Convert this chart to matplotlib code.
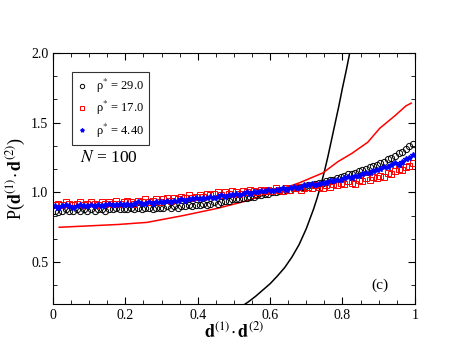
import numpy as np
import matplotlib.pyplot as plt
from matplotlib.ticker import MultipleLocator

plt.rcParams['font.family'] = ['Liberation Serif', 'DejaVu Serif']
plt.rcParams['mathtext.fontset'] = 'stix'

# bin centres of d1.d2
x = np.arange(100) * 0.01 + 0.005

rho29 = [0.87, 0.86, 0.87, 0.88, 0.87, 0.87, 0.88, 0.87, 0.88, 0.87,
         0.88, 0.87, 0.88, 0.88, 0.87, 0.88, 0.88, 0.89, 0.88, 0.88,
         0.88, 0.89, 0.88, 0.89, 0.88, 0.89, 0.89, 0.88, 0.89, 0.89,
         0.89, 0.90, 0.89, 0.90, 0.89, 0.90, 0.90, 0.91, 0.90, 0.91,
         0.91, 0.92, 0.91, 0.92, 0.93, 0.92, 0.93, 0.94, 0.94, 0.95,
         0.95, 0.95, 0.96, 0.96, 0.97, 0.97, 0.98, 0.98, 0.99, 0.99,
         1.00, 1.00, 1.01, 1.01, 1.02, 1.02, 1.03, 1.03, 1.04, 1.04,
         1.05, 1.05, 1.06, 1.07, 1.07, 1.08, 1.09, 1.09, 1.10, 1.11,
         1.12, 1.13, 1.13, 1.14, 1.15, 1.16, 1.17, 1.18, 1.19, 1.20,
         1.21, 1.22, 1.24, 1.25, 1.26, 1.28, 1.29, 1.31, 1.33, 1.35]

rho17 = [0.91, 0.92, 0.91, 0.93, 0.92, 0.91, 0.92, 0.93, 0.91, 0.92,
         0.93, 0.92, 0.91, 0.93, 0.92, 0.93, 0.92, 0.94, 0.92, 0.93,
         0.94, 0.93, 0.92, 0.94, 0.93, 0.95, 0.93, 0.94, 0.95, 0.93,
         0.95, 0.96, 0.94, 0.96, 0.95, 0.97, 0.96, 0.98, 0.96, 0.97,
         0.98, 0.97, 0.99, 0.98, 0.99, 1.00, 0.98, 1.00, 0.99, 1.01,
         1.00, 0.99, 1.01, 1.00, 1.02, 1.01, 1.00, 1.02, 1.01, 1.02,
         1.01, 1.03, 1.02, 1.01, 1.03, 1.02, 1.03, 1.04, 1.02, 1.03,
         1.04, 1.03, 1.05, 1.04, 1.03, 1.05, 1.04, 1.06, 1.05, 1.07,
         1.06, 1.08, 1.07, 1.06, 1.09, 1.08, 1.10, 1.09, 1.11, 1.10,
         1.12, 1.11, 1.14, 1.13, 1.15, 1.17, 1.16, 1.18, 1.19, 1.21]

rho44 = [0.90, 0.89, 0.90, 0.91, 0.90, 0.89, 0.90, 0.91, 0.90, 0.90,
         0.91, 0.90, 0.91, 0.90, 0.91, 0.92, 0.91, 0.91, 0.92, 0.91,
         0.92, 0.91, 0.92, 0.93, 0.92, 0.92, 0.93, 0.92, 0.93, 0.93,
         0.93, 0.94, 0.93, 0.94, 0.94, 0.95, 0.94, 0.95, 0.95, 0.96,
         0.95, 0.96, 0.96, 0.97, 0.96, 0.97, 0.98, 0.97, 0.98, 0.98,
         0.99, 0.98, 0.99, 1.00, 0.99, 1.00, 1.00, 1.01, 1.01, 1.02,
         1.01, 1.02, 1.02, 1.03, 1.02, 1.03, 1.04, 1.03, 1.04, 1.05,
         1.05, 1.06, 1.05, 1.06, 1.07, 1.07, 1.08, 1.08, 1.09, 1.09,
         1.10, 1.11, 1.10, 1.12, 1.12, 1.13, 1.14, 1.14, 1.15, 1.16,
         1.17, 1.18, 1.18, 1.20, 1.21, 1.20, 1.22, 1.24, 1.25, 1.27]

# red reference curve
red_x = [0.017, 0.10, 0.18, 0.26, 0.36, 0.453, 0.536, 0.627, 0.682,
         0.746, 0.787, 0.826, 0.87, 0.903, 0.945, 0.975, 0.99]
red_y = [0.75, 0.76, 0.77, 0.785, 0.834, 0.885, 0.94, 1.02, 1.07,
         1.14, 1.22, 1.28, 1.36, 1.46, 1.55, 1.62, 1.64]

# black reference curve
blk_x = [0.52, 0.54, 0.56, 0.58, 0.60, 0.62, 0.64, 0.66, 0.68, 0.70,
         0.72, 0.73, 0.74, 0.75, 0.76, 0.77, 0.78, 0.79, 0.80, 0.81,
         0.82, 0.83, 0.84]
blk_y = [0.18, 0.215, 0.255, 0.30, 0.345, 0.40, 0.46, 0.535, 0.625, 0.74,
         0.88, 0.96, 1.05, 1.15, 1.26, 1.38, 1.50, 1.62, 1.75, 1.87,
         2.00, 2.14, 2.28]

fig = plt.figure(figsize=(4.63, 3.58), dpi=100)
ax = fig.add_axes([0.1145, 0.151, 0.7815, 0.701])

ax.plot(blk_x, blk_y, color='black', lw=1.1)
ax.plot(red_x, red_y, color='red', lw=1.1)
ax.plot(x, rho29, 'o', mfc='none', mec='black', ms=4.5, mew=0.7, label='ρ$^{*}$ = 29.0')
ax.plot(x, rho17, 's', mfc='none', mec='red', ms=4.2, mew=0.7, label='ρ$^{*}$ = 17.0')
ax.plot(x, rho44, '-', color='blue', lw=0.6)
ax.plot(x, rho44, '*', color='blue', ms=4, label='ρ$^{*}$ = 4.40')

ax.set_xlim(0, 1)
ax.set_ylim(0.2, 2.0)
ax.set_xticks([0, 0.2, 0.4, 0.6, 0.8, 1.0])
ax.set_xticklabels(['0', '0.2', '0.4', '0.6', '0.8', '1'])
ax.set_yticks([0.5, 1.0, 1.5, 2.0])
ax.set_yticklabels(['0.5', '1.0', '1.5', '2.0'])
ax.xaxis.set_minor_locator(MultipleLocator(0.05))
ax.yaxis.set_minor_locator(MultipleLocator(0.5 / 3))
ax.tick_params(which='both', direction='in', top=True, right=True, labelsize=10)
ax.tick_params(which='major', length=5)
ax.tick_params(which='minor', length=3)

ax.set_xlabel(r'$\mathbf{d}^{(1)}\!\cdot\mathbf{d}^{(2)}$', fontsize=13, labelpad=0)
ax.set_ylabel(r'P($\mathbf{d}^{(1)}\!\cdot\mathbf{d}^{(2)}$)', fontsize=13, labelpad=2)

leg = ax.legend(loc='upper left', bbox_to_anchor=(0.052, 0.925), fontsize=9,
                frameon=True, fancybox=False, edgecolor='black', numpoints=1,
                markerscale=0.7, handlelength=0.8, handletextpad=0.7,
                borderpad=0.4, labelspacing=0.35, borderaxespad=0)
leg.get_frame().set_linewidth(0.8)

ax.text(0.075, 0.566, r'$N$ = 100', transform=ax.transAxes, fontsize=12.5)
ax.text(0.88, 0.06, '(c)', transform=ax.transAxes, fontsize=11)

fig.savefig('out.png', dpi=100)
